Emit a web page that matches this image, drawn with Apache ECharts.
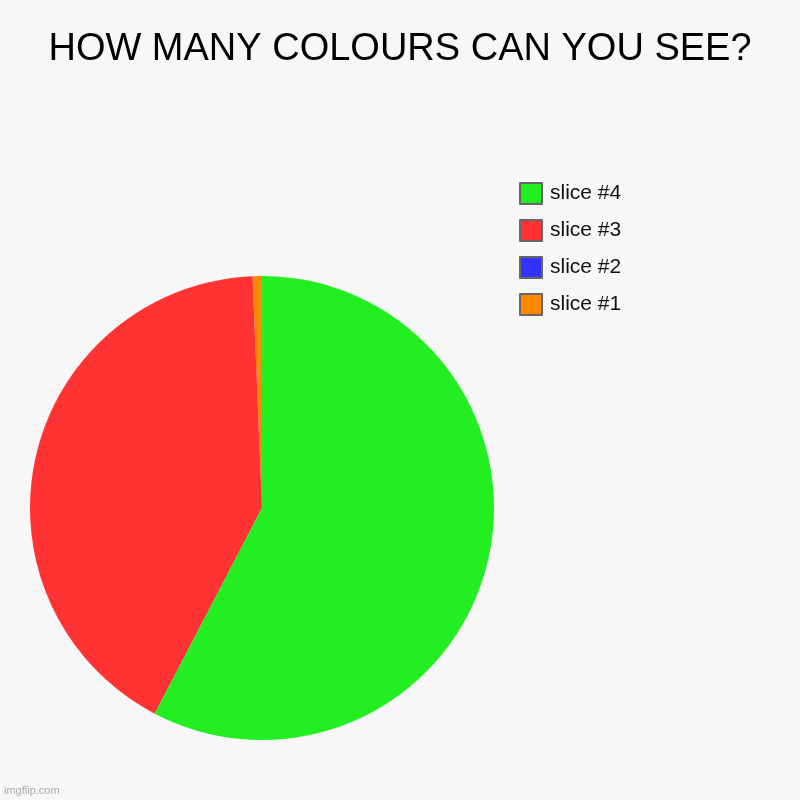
<!DOCTYPE html>
<html><head><meta charset="utf-8">
<script src="https://cdn.jsdelivr.net/npm/echarts@6/dist/echarts.min.js"></script>
<style>html,body{margin:0;padding:0;background:#f7f7f7}#c{width:800px;height:800px}</style>
</head><body><div id="c"></div>
<script>
const categories = ['slice #1', 'slice #2', 'slice #3', 'slice #4'];
const values = [0.65, 0, 41.7, 57.65];
const colors = ['#ff8800', '#3333ff', '#ff3333', '#22ee22'];
const legendOrder = ['slice #4', 'slice #3', 'slice #2', 'slice #1'];

const chart = echarts.init(document.getElementById('c'), null, {renderer: 'canvas'});
chart.setOption({
  backgroundColor: '#f7f7f7',
  animation: false,
  title: {
    text: 'HOW MANY COLOURS CAN YOU SEE?',
    left: 'center', top: 26,
    textStyle: {fontFamily: 'Liberation Sans, Arial', fontSize: 38, fontWeight: 'normal', color: '#000'}
  },
  graphic: [{
    type: 'text', left: 4, top: 785,
    style: {text: 'imgflip.com', fill: '#aaaaaa', font: '11px Liberation Sans, Arial'}
  }],
  legend: {
    orient: 'vertical', left: 519, top: 182, padding: 0,
    data: legendOrder,
    icon: 'rect', itemWidth: 22, itemHeight: 21, itemGap: 14,
    itemStyle: {borderColor: '#666666', borderWidth: 2},
    selectedMode: false,
    textStyle: {fontFamily: 'Liberation Sans, Arial', fontSize: 21, lineHeight: 21, color: '#111', padding: [0, 0, 0, 3]}
  },
  series: [{
    type: 'pie',
    center: [262, 508],
    radius: [0, 232],
    startAngle: 90,
    clockwise: false,
    label: {show: false},
    labelLine: {show: false},
    emphasis: {disabled: true},
    itemStyle: {borderWidth: 0},
    data: categories.map((n, i) => ({name: n, value: values[i], itemStyle: {color: colors[i]}}))
  }]
});
</script></body></html>
